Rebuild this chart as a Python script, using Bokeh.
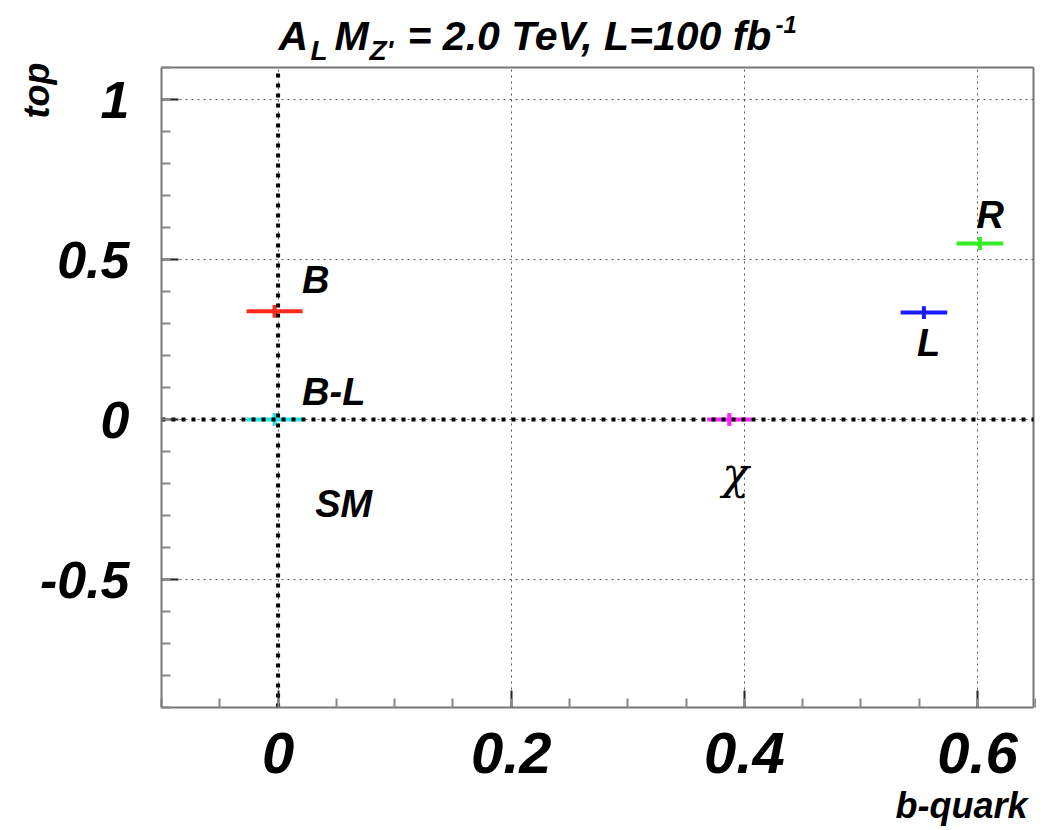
import numpy as np
from bokeh.plotting import figure
from bokeh.models import FixedTicker, ColumnDataSource, Label
from bokeh.core.properties import value
from bokeh.embed import file_html
from bokeh.resources import INLINE

# ---- data ----
models = ["B", "B-L", "χ", "L", "R"]
b_quark = [-0.003, -0.003, 0.387, 0.554, 0.602]
top = [0.338, 0.0, 0.0, 0.334, 0.55]
b_err = [0.024, 0.024, 0.019, 0.020, 0.020]
top_err = [0.02, 0.02, 0.02, 0.02, 0.02]
colors = ["#ff2a1a", "#22e5e5", "#ff22ff", "#1a1aff", "#33ee22"]

label_text = ["B", "B-L", "SM", "R", "L"]
label_x = [0.0206, 0.0206, 0.0318, 0.599, 0.548]
label_y = [0.436, 0.086, -0.264, 0.639, 0.239]
chi_text = ["χ"]
chi_x = [0.381]
chi_y = [-0.17]

x_ticks = [0, 0.2, 0.4, 0.6]
y_ticks = [-0.5, 0, 0.5, 1]
x_minor = [round(-0.1 + 0.05 * i, 3) for i in range(16)]
y_minor = [round(-0.9 + 0.1 * i, 3) for i in range(21)]

title_parts = ["A", "L", "M", "Z'", "= 2.0 TeV, L=100 fb", "-1"]
x_title = "b-quark"
y_title = "top"

# ---- layout: the plotted box inside a full-canvas frame ----
W, H = 1036, 830
BOX_L, BOX_R, BOX_T, BOX_B = 161, 1033, 67, 707   # page pixels of the plotted box
X_LO, X_HI = -0.1, 0.648
Y_LO, Y_HI = -0.9, 1.1
kx = (BOX_R - BOX_L) / (X_HI - X_LO)
ky = (BOX_B - BOX_T) / (Y_HI - Y_LO)
x_range = (X_LO - BOX_L / kx, X_HI + (W - BOX_R) / kx)
y_range = (Y_LO - (H - BOX_B) / ky, Y_HI + BOX_T / ky)

FONT = "Liberation Sans"
FRAME_COL = "#777777"

p = figure(width=W, height=H, x_range=x_range, y_range=y_range,
           output_backend="svg", toolbar_location=None, title=None,
           min_border=0, min_border_left=0, min_border_right=0,
           min_border_top=0, min_border_bottom=0)
p.outline_line_color = None

for ax in (p.xaxis[0], p.yaxis[0]):
    ax.major_label_text_font = FONT
    ax.major_label_text_font_style = "bold italic"
    ax.major_label_text_color = "black"
    ax.axis_line_color = FRAME_COL
    ax.axis_line_width = 2
    ax.major_tick_in = 17
    ax.major_tick_out = 0
    ax.minor_tick_in = 9
    ax.minor_tick_out = 0
    ax.major_tick_line_color = "#222222"
    ax.major_tick_line_width = 2
    ax.minor_tick_line_color = "#888888"
    ax.minor_tick_line_width = 2

p.xaxis.fixed_location = Y_LO
p.yaxis.fixed_location = X_LO
p.xaxis.bounds = (X_LO, X_HI)
p.yaxis.bounds = (Y_LO, Y_HI)
p.xaxis.major_label_text_font_size = "58px"
p.yaxis.major_label_text_font_size = "52px"
p.xaxis.ticker = FixedTicker(ticks=x_ticks, minor_ticks=x_minor)
p.yaxis.ticker = FixedTicker(ticks=y_ticks, minor_ticks=y_minor)
p.xaxis.major_label_overrides = {0: "0", 0.2: "0.2", 0.4: "0.4", 0.6: "0.6"}
p.yaxis.major_label_overrides = {-0.5: "-0.5", 0: "0", 0.5: "0.5", 1: "1"}
p.xaxis.major_label_standoff = 25
p.yaxis.major_label_standoff = 32

# grid
grid_style = dict(line_color="#555555", line_dash="2 4", line_width=1)
gx, gy = p.xgrid[0], p.ygrid[0]
if "cross_bounds" in gx.properties():
    for g in (gx, gy):
        g.grid_line_color = grid_style["line_color"]
        g.grid_line_dash = grid_style["line_dash"]
        g.grid_line_width = grid_style["line_width"]
    gx.cross_bounds = (Y_LO, Y_HI)
    gy.cross_bounds = (X_LO, X_HI)
else:
    gx.visible = False
    gy.visible = False
    p.segment(x0=x_ticks, x1=x_ticks, y0=[Y_LO] * len(x_ticks), y1=[Y_HI] * len(x_ticks),
              level="underlay", **grid_style)
    p.segment(x0=[X_LO] * len(y_ticks), x1=[X_HI] * len(y_ticks), y0=y_ticks, y1=y_ticks,
              level="underlay", **grid_style)

# frame: top and right edges
p.segment(x0=[X_LO, X_HI], x1=[X_HI, X_HI], y0=[Y_HI, Y_LO], y1=[Y_HI, Y_HI],
          line_color=FRAME_COL, line_width=2)

# error bars
src = ColumnDataSource(dict(
    x=b_quark, y=top, c=colors,
    x0=[a - e for a, e in zip(b_quark, b_err)],
    x1=[a + e for a, e in zip(b_quark, b_err)],
    y0=[a - e for a, e in zip(top, top_err)],
    y1=[a + e for a, e in zip(top, top_err)],
))
p.segment(x0="x0", x1="x1", y0="y", y1="y", line_color="c", line_width=4, source=src)
p.segment(x0="x", x1="x", y0="y0", y1="y1", line_color="c", line_width=4, source=src)

# zero lines
p.segment(x0=[0, X_LO], x1=[0, X_HI], y0=[Y_LO, 0], y1=[Y_HI, 0], line_color="black",
          line_width=4, line_dash="4 6")

# model labels
p.text(x=label_x, y=label_y, text=label_text, text_font=value(FONT),
       text_font_style="bold italic", text_font_size="38px",
       text_color="black", text_align="left", text_baseline="alphabetic")
p.text(x=chi_x, y=chi_y, text=chi_text, text_font=value("DejaVu Serif"),
       text_font_style="italic", text_font_size="44px",
       text_color="black", text_align="left", text_baseline="alphabetic")

# title and axis titles (screen units from canvas bottom-left)
def lab(txt, x, y, size, **kw):
    p.add_layout(Label(x=x, y=y, x_units="screen", y_units="screen", text=txt,
                       text_font=FONT, text_font_style="bold italic",
                       text_font_size=size, text_color="black", **kw))

lab(title_parts[0], 278, 795, "41px", text_baseline="alphabetic")
lab(title_parts[1], 310, 780, "28px", text_baseline="alphabetic")
lab(title_parts[2], 334, 795, "41px", text_baseline="alphabetic")
lab(title_parts[3], 369, 780, "28px", text_baseline="alphabetic")
lab(title_parts[4], 407, 795, "41px", text_baseline="alphabetic")
lab(title_parts[5], 775, 806, "24px", text_baseline="alphabetic")
lab(y_title, 36, 768, "36px", angle=np.pi / 2, text_align="right", text_baseline="middle")
lab(x_title, 1027, 25, "36px", text_align="right", text_baseline="alphabetic")

open("out.html", "w").write(file_html(p, INLINE))
